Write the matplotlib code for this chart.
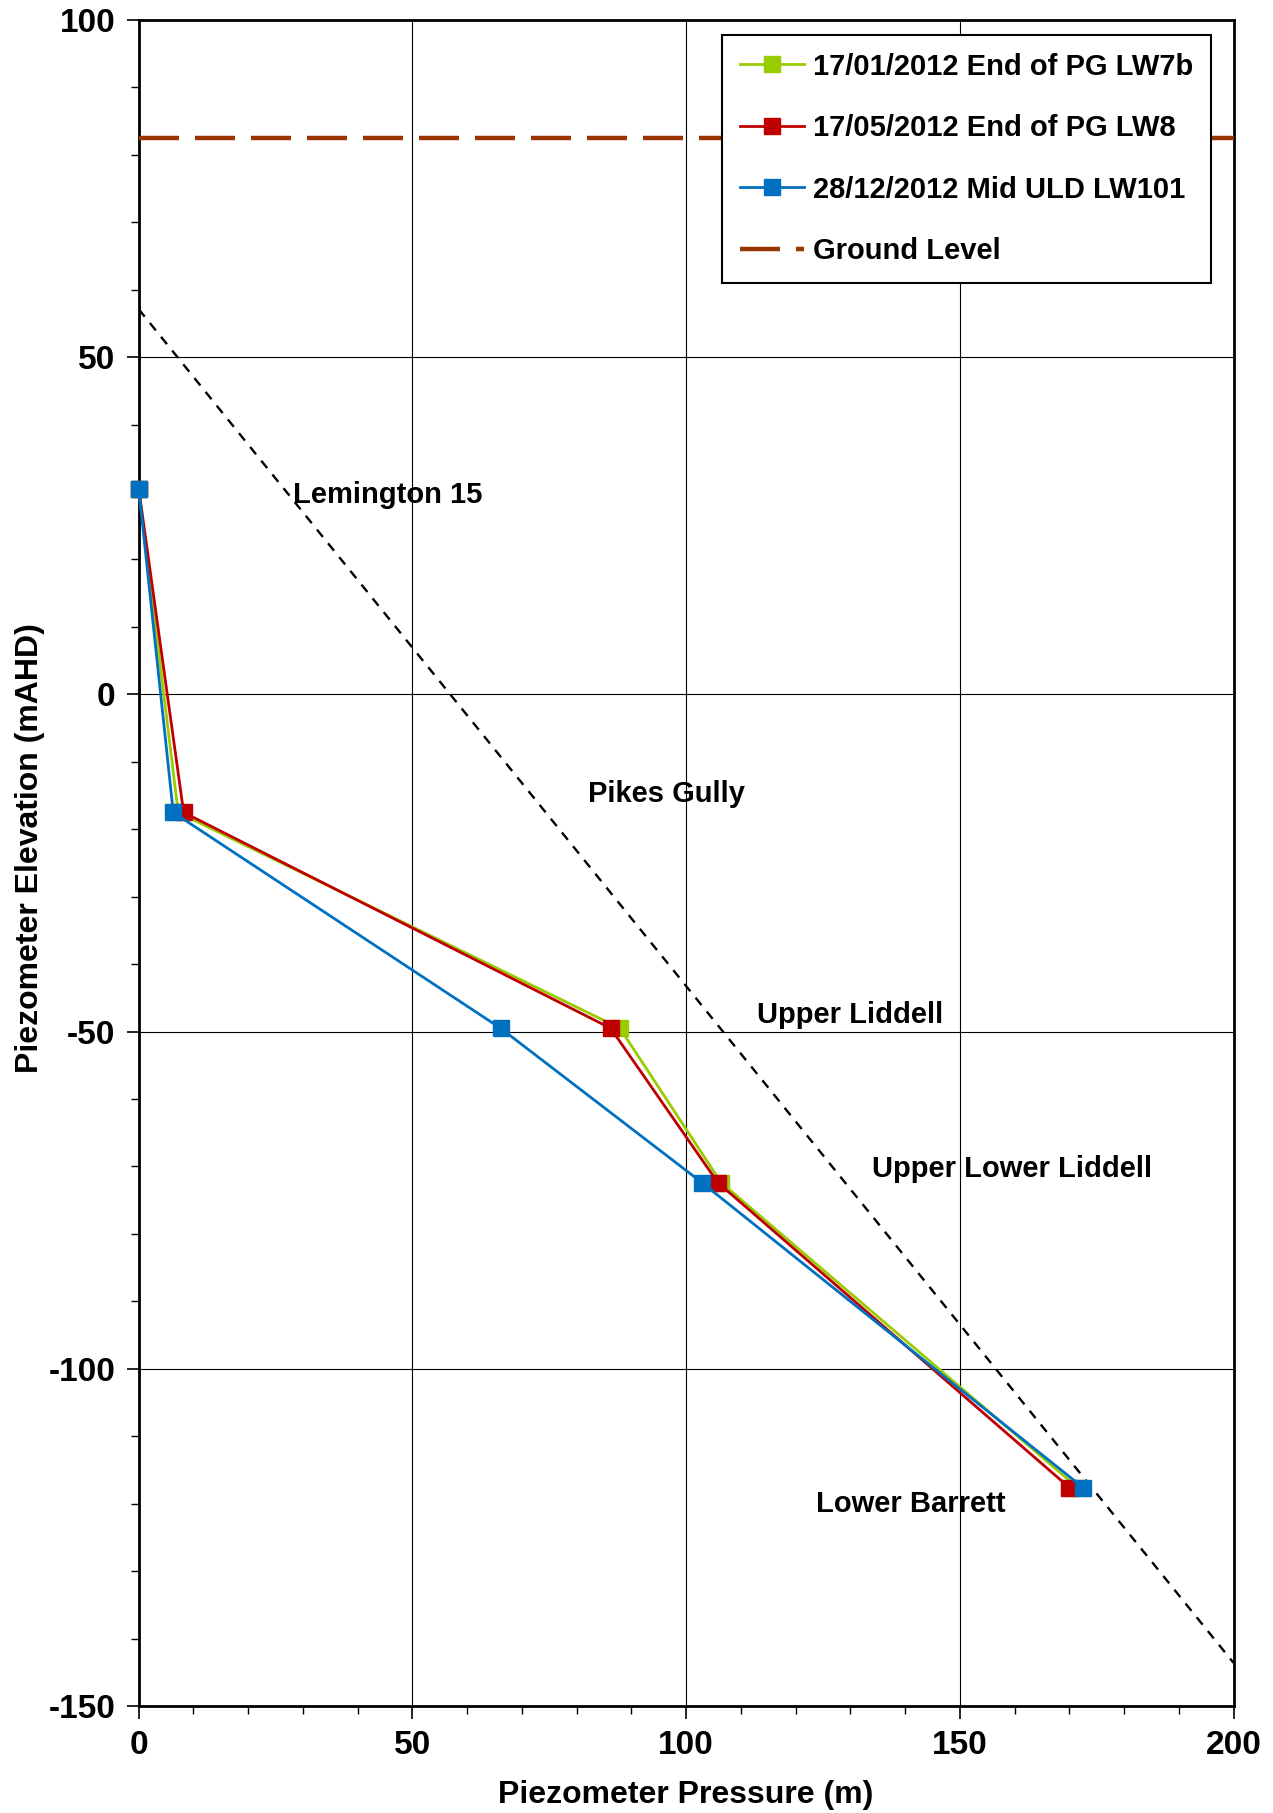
import matplotlib
matplotlib.use("Agg")
import matplotlib.pyplot as plt
from matplotlib.ticker import MultipleLocator

plt.rcParams["font.family"] = ["Liberation Sans", "DejaVu Sans"]
plt.rcParams["font.weight"] = "bold"
plt.rcParams["axes.unicode_minus"] = False

# piezometer readings (pressure m, elevation mAHD)
elev = [30.5, -17.5, -49.5, -72.4, -117.6]
p_lw7b = [0.0, 7.2, 87.9, 106.4, 171.5]
p_lw8 = [0.0, 8.2, 86.2, 105.8, 170.0]
p_lw101 = [0.0, 6.3, 66.1, 102.9, 172.5]
series_names = ["17/01/2012 End of PG LW7b", "17/05/2012 End of PG LW8",
                "28/12/2012 Mid ULD LW101"]
series_colors = ["#99CC00", "#C00000", "#0070C0"]

ground_level = 82.5
hydro_x = [0, 200]
hydro_y = [57.1, -143.6]

seam_names = ["Lemington 15", "Pikes Gully", "Upper Liddell",
              "Upper Lower Liddell", "Lower Barrett"]
seam_x = [28.1, 82.0, 113.0, 134.0, 123.8]
seam_y = [29.6, -14.8, -47.6, -70.4, -120.1]

fig = plt.figure(figsize=(12.73, 18.13), dpi=100)
ax = fig.add_axes([0.109, 0.059, 0.860, 0.930])

for xs, name, col in zip([p_lw7b, p_lw8, p_lw101], series_names, series_colors):
    ax.plot(xs, elev, "-", color=col, lw=2, marker="s", ms=11, label=name,
            zorder=4, clip_on=False)

ax.axhline(ground_level, color="#993300", lw=3.2, dashes=(9, 3.6),
           label="Ground Level", zorder=3)
ax.plot(hydro_x, hydro_y, "--", color="black", lw=1.7, dashes=(4, 3.5), zorder=3)

for s, x, y in zip(seam_names, seam_x, seam_y):
    ax.text(x, y, s, fontsize=21, fontweight="bold", va="center", ha="left", zorder=5)

ax.set_xlim(0, 200)
ax.set_ylim(-150, 100)
ax.xaxis.set_major_locator(MultipleLocator(50))
ax.yaxis.set_major_locator(MultipleLocator(50))
ax.xaxis.set_minor_locator(MultipleLocator(10))
ax.yaxis.set_minor_locator(MultipleLocator(10))
ax.grid(True, which="major", color="black", lw=0.8)
ax.tick_params(which="major", direction="out", length=9, width=1.2, labelsize=24, pad=8)
ax.tick_params(which="minor", direction="out", length=6, width=1.0)
for lab in ax.get_xticklabels() + ax.get_yticklabels():
    lab.set_fontweight("bold")
for sp in ax.spines.values():
    sp.set_linewidth(2)

ax.set_xlabel("Piezometer Pressure (m)", fontsize=23, fontweight="bold", labelpad=14)
ax.set_ylabel("Piezometer Elevation (mAHD)", fontsize=23, fontweight="bold",
              labelpad=2, y=0.509)

leg = ax.legend(loc="upper right", bbox_to_anchor=(0.979, 0.991), borderaxespad=0,
                fontsize=21, frameon=True, fancybox=False, edgecolor="black",
                framealpha=1, handlelength=2.2, labelspacing=1.15, borderpad=0.6,
                handletextpad=0.3)
leg.get_frame().set_linewidth(1.5)
for t in leg.get_texts():
    t.set_fontweight("bold")

fig.savefig("out.png", dpi=100)
